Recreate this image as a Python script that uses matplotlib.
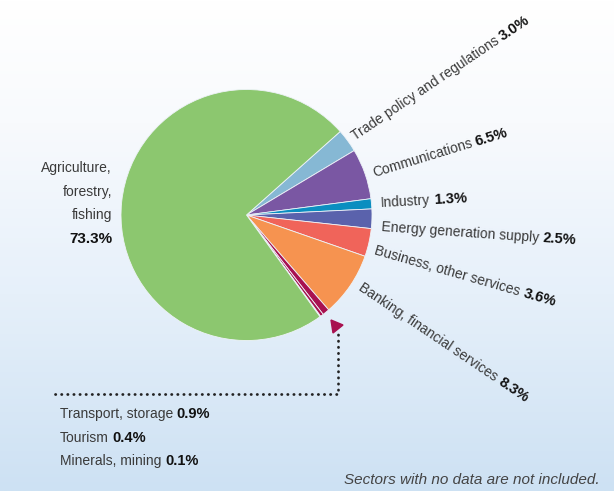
# ============================================
# PIE CHART - SHARE BY SECTOR
# ============================================

import numpy as np
import matplotlib
matplotlib.use("Agg")
import matplotlib.pyplot as plt
from matplotlib.colors import LinearSegmentedColormap
from matplotlib.patches import Polygon

# ── DATA ──────────────────────────────────────
sectors = ["Trade policy and regulations", "Communications", "Industry",
           "Energy generation supply", "Business, other services",
           "Banking, financial services", "Transport, storage", "Tourism",
           "Minerals, mining", "Agriculture, forestry, fishing"]
shares = [3.0, 6.5, 1.3, 2.5, 3.6, 8.3, 0.9, 0.4, 0.1, 73.3]
share_labels = ["3.0%", "6.5%", "1.3%", "2.5%", "3.6%", "8.3%",
                "0.9%", "0.4%", "0.1%", "73.3%"]
colors = ["#86b8d4", "#7a57a3", "#0b8ec0", "#5a62ac", "#f0645a",
          "#f69350", "#a81150", "#a81150", "#a81150", "#8cc76f"]

# ── UKURAN ────────────────────────────────────
W, H = 614, 491
FONT = ["Liberation Sans", "DejaVu Sans"]
CLR_TXT = "#3a3a3a"
CLR_BOLD = "#111111"
FS = 10
FS_B = 10.5

fig = plt.figure(figsize=(W / 100, H / 100), dpi=100)

# ── BACKGROUND GRADIENT ───────────────────────
bg = fig.add_axes([0, 0, 1, 1], zorder=0)
cmap = LinearSegmentedColormap.from_list(
    "bg", [(0, "#ffffff"), (0.25, "#f8fafd"), (0.6, "#e6f0fa"), (1, "#cde1f3")])
grad = np.linspace(0, 1, 256).reshape(-1, 1)
bg.imshow(grad, aspect="auto", cmap=cmap, extent=[0, 1, 0, 1], origin="upper")
bg.axis("off")

# ── PIE ───────────────────────────────────────
ax = fig.add_axes([0, 0, 1, 1], zorder=1)
ax.patch.set_visible(False)
cx, cy, r = 246.5, H - 215, 125.5
ax.pie(shares, colors=colors, startangle=41.7, counterclock=False,
       center=(cx, cy), radius=r,
       wedgeprops=dict(linewidth=0.6, edgecolor="#eef3f8"))
ax.set_xlim(0, W)
ax.set_ylim(0, H)
ax.set_aspect("equal")
ax.axis("off")

renderer = fig.canvas.get_renderer()


def text_width(s, **kw):
    t = ax.text(0, 0, s, fontsize=FS, family=FONT, **kw)
    w = t.get_window_extent(renderer).width
    t.remove()
    return w


def label(x, y, angle, normal, bold):
    y = H - y
    ax.text(x, y, normal, fontsize=FS, family=FONT, color=CLR_TXT,
            rotation=angle, rotation_mode="anchor", ha="left", va="baseline")
    d = text_width(normal) + 3.5
    a = np.radians(angle)
    ax.text(x + d * np.cos(a), y + d * np.sin(a), bold, fontsize=FS_B,
            family=FONT, fontweight="bold", color=CLR_BOLD,
            rotation=angle, rotation_mode="anchor", ha="left", va="baseline")


# ── LABEL SEKTOR KANAN ────────────────────────
pos = [(355, 141, 34), (374, 177, 17), (381, 207, 3),
       (381, 231, -4), (374, 254, -16), (358, 290, -34)]
for (x, y, ang), name, pct in zip(pos, sectors[:6], share_labels[:6]):
    label(x, y, ang, name, pct)

# ── LABEL AGRICULTURE ─────────────────────────
agri_lines = ["Agriculture,", "forestry,", "fishing"]
for i, s in enumerate(agri_lines):
    ax.text(112, H - 168 - i * 23.5, s, fontsize=FS, family=FONT,
            color=CLR_TXT, ha="right", va="center")
ax.text(112, H - 168 - 3 * 23.5, share_labels[-1], fontsize=FS_B + 0.5,
        family=FONT, fontweight="bold", color=CLR_BOLD, ha="right", va="center")

# ── LABEL KECIL BAWAH ─────────────────────────
for i in range(3):
    label(60, 418 + i * 23.5, 0, sectors[6 + i], share_labels[6 + i])

# ── PANAH TITIK-TITIK ─────────────────────────
ax.plot([55, 338, 338], [H - 394, H - 394, H - 334], color="#222222",
        linestyle=(0, (0.1, 2.1)), linewidth=2.0, dash_capstyle="round")
ax.add_patch(Polygon([(331, H - 320), (343, H - 325), (333, H - 333)],
                     closed=True, color="#a81150"))

# ── CATATAN ───────────────────────────────────
ax.text(600, H - 480, "Sectors with no data are not included.", fontsize=11,
        family=FONT, style="italic", color="#444444", ha="right", va="center")

plt.savefig("out.png", dpi=100)
